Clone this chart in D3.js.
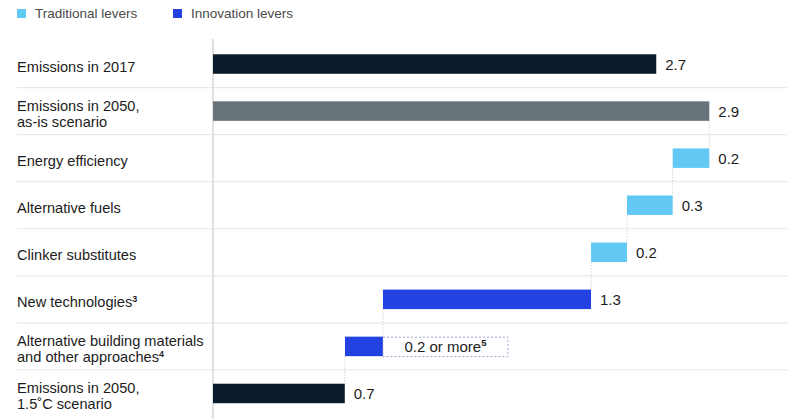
<!DOCTYPE html>
<html>
<head>
<meta charset="utf-8">
<script src="https://cdn.jsdelivr.net/npm/d3@7"></script>
<style>
  html, body { margin: 0; padding: 0; background: #ffffff; }
  svg { display: block; font-family: "Liberation Sans", Arial, sans-serif; }
</style>
</head>
<body>
<svg id="chart" width="787" height="419"></svg>
<script>
// ---- data ----
const categoryLines = [
  ["Emissions in 2017"],
  ["Emissions in 2050,", "as-is scenario"],
  ["Energy efficiency"],
  ["Alternative fuels"],
  ["Clinker substitutes"],
  ["New technologies"],
  ["Alternative building materials", "and other approaches"],
  ["Emissions in 2050,", "1.5˚C scenario"]
];
const footnotes = ["", "", "", "", "", "3", "4", ""];
const kinds = ["base", "asis", "traditional", "traditional", "traditional", "innovation", "innovation", "base"];
const values = [2.59, 2.90, 0.214, 0.267, 0.21, 1.216, 0.222, 0.77];
const valueLabels = ["2.7", "2.9", "0.2", "0.3", "0.2", "1.3", "0.2 or more", "0.7"];
const valueFootnotes = ["", "", "", "", "", "", "5", ""];
const legendLabels = ["Traditional levers", "Innovation levers"];
const legendKinds = ["traditional", "innovation"];

// ---- styles ----
const colors = {
  base: "#0b1b2b",
  asis: "#68737a",
  traditional: "#62c9f5",
  innovation: "#2142e0"
};

const W = 787, H = 419;
const svg = d3.select("#chart");

// waterfall layout
let running = 0;
const bars = values.map((v, i) => {
  let x0, x1;
  if (kinds[i] === "base" || kinds[i] === "asis") {
    x0 = 0; x1 = v; running = v;
  } else {
    x1 = running; x0 = running - v; running = x0;
  }
  return { i, x0, x1, kind: kinds[i] };
});

const x = d3.scaleLinear().domain([0, 2.9]).range([213, 709.3]);
const y = d3.scaleBand().domain(d3.range(values.length)).range([40.5, 417]).paddingInner(0).paddingOuter(0);
const barH = 19.5;
const cy = i => y(i) + y.bandwidth() / 2;

// separators
svg.append("g").selectAll("line")
  .data(d3.range(1, values.length))
  .join("line")
  .attr("x1", 17).attr("x2", W)
  .attr("y1", i => y(i)).attr("y2", i => y(i))
  .attr("stroke", "#e9e9e9").attr("stroke-width", 1.2);

// axis line at zero
svg.append("line")
  .attr("x1", x(0)).attr("x2", x(0))
  .attr("y1", 39).attr("y2", H)
  .attr("stroke", "#e1e1e1").attr("stroke-width", 2);

// connectors
svg.append("g").selectAll("line")
  .data(bars.slice(2))
  .join("line")
  .attr("x1", d => x(d.x1)).attr("x2", d => x(d.x1))
  .attr("y1", d => cy(d.i - 1) + barH / 2).attr("y2", d => cy(d.i) - barH / 2)
  .attr("stroke", "#d4d4d4").attr("stroke-width", 1)
  .attr("stroke-dasharray", "1.5,1.5");

// bars
svg.append("g").selectAll("rect")
  .data(bars)
  .join("rect")
  .attr("x", d => x(d.x0))
  .attr("width", d => x(d.x1) - x(d.x0))
  .attr("y", d => cy(d.i) - barH / 2)
  .attr("height", barH)
  .attr("fill", d => colors[d.kind]);

// category labels
const labels = svg.append("g").selectAll("text")
  .data(categoryLines.map((lines, i) => ({ lines, i })))
  .join("text")
  .attr("font-size", 14.6)
  .attr("fill", "#1c1c1c");
labels.each(function (d) {
  const t = d3.select(this);
  const base = d.lines.length === 1 ? cy(d.i) + 7.5 : cy(d.i) - 0.5;
  d.lines.forEach((ln, k) => {
    t.append("tspan").attr("x", 17).attr("y", base + k * 16).text(ln);
    if (k === d.lines.length - 1 && footnotes[d.i]) {
      t.append("tspan").attr("font-size", 9).attr("font-weight", "bold").attr("dy", -5).text(footnotes[d.i]);
    }
  });
});

// value labels
bars.forEach(d => {
  if (valueFootnotes[d.i]) {
    // dashed box with label
    const g = svg.append("g");
    const t = g.append("text")
      .attr("y", cy(d.i) + 5.5)
      .attr("font-size", 15)
      .attr("fill", "#1c1c1c")
      .attr("text-anchor", "middle");
    t.append("tspan").text(valueLabels[d.i]);
    t.append("tspan").attr("font-size", 9.5).attr("font-weight", "bold").attr("dy", -5.5).text(valueFootnotes[d.i]);
    const bx0 = x(d.x1);
    const tw = t.node().getComputedTextLength();
    const bw = tw + 43;
    t.attr("x", bx0 + bw / 2);
    g.insert("rect", "text")
      .attr("x", bx0).attr("y", cy(d.i) - barH / 2 + 0.5)
      .attr("width", bw).attr("height", barH)
      .attr("fill", "none")
      .attr("stroke", "#9a9ac8").attr("stroke-width", 0.9)
      .attr("stroke-dasharray", "2,2");
  } else {
    svg.append("text")
      .attr("x", x(d.x1) + 9)
      .attr("y", cy(d.i) + 5.5)
      .attr("font-size", 15)
      .attr("fill", "#1c1c1c")
      .text(valueLabels[d.i]);
  }
});

// legend
const legendX = [17, 173];
legendLabels.forEach((lab, k) => {
  svg.append("rect")
    .attr("x", legendX[k]).attr("y", 9)
    .attr("width", 9).attr("height", 9)
    .attr("fill", colors[legendKinds[k]]);
  svg.append("text")
    .attr("x", legendX[k] + 18).attr("y", 18)
    .attr("font-size", 13.5)
    .attr("fill", "#4a4a4a")
    .text(lab);
});
</script>
</body>
</html>
